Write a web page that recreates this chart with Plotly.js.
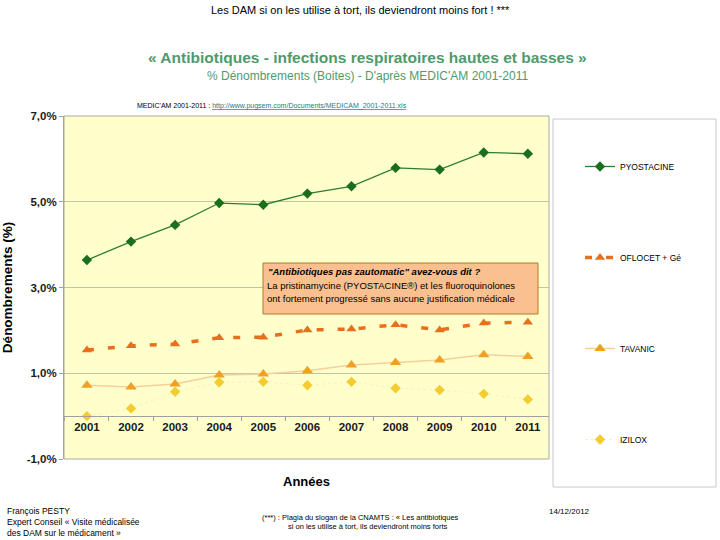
<!DOCTYPE html>
<html><head><meta charset="utf-8">
<script src="https://cdn.plot.ly/plotly-3.0.1.min.js"></script>
<style>html,body{margin:0;padding:0;background:#fff}#c{width:720px;height:540px}</style>
</head><body><div id="c"></div>
<script>
const years = ['2001','2002','2003','2004','2005','2006','2007','2008','2009','2010','2011'];
const pyostacine = [3.64, 4.07, 4.46, 4.97, 4.93, 5.19, 5.36, 5.79, 5.75, 6.15, 6.12];
const oflocet    = [1.54, 1.64, 1.68, 1.83, 1.84, 2.01, 2.03, 2.13, 2.01, 2.17, 2.19];
const tavanic    = [0.72, 0.68, 0.75, 0.96, 0.98, 1.06, 1.19, 1.25, 1.31, 1.43, 1.39];
const izilox     = [0.00, 0.18, 0.57, 0.79, 0.80, 0.72, 0.80, 0.65, 0.61, 0.52, 0.39];
const seriesNames = ['PYOSTACINE', 'OFLOCET + Gé', 'TAVANIC', 'IZILOX'];
const yTicks = [-1, 1, 3, 5, 7];
const yTickLabels = ['-1,0%', '1,0%', '3,0%', '5,0%', '7,0%'];

const W = 720, H = 540;
const px = x => x / W;
const py = y => 1 - y / H;
const FONT = 'Liberation Sans, Arial, sans-serif';

const traces = [
  {x: years, y: pyostacine, name: seriesNames[0], mode: 'lines+markers', legendgroup: 'a',
   line: {color: '#2E7D2E', width: 1.3}, marker: {symbol: 'diamond', size: 8, color: '#1B6E1B'}},
  {x: years, y: oflocet, name: seriesNames[1], mode: 'lines+markers', legendgroup: 'b',
   line: {color: '#E8701C', width: 3.5, dash: '7px,14px'}, marker: {symbol: 'triangle-up', size: 9, color: '#E8701C'}},
  {x: years, y: tavanic, name: seriesNames[2], mode: 'lines+markers', legendgroup: 'c',
   line: {color: '#F5D09A', width: 1.5}, marker: {symbol: 'triangle-up', size: 10, color: '#F0A024'}},
  {x: years, y: izilox, name: seriesNames[3], mode: 'lines+markers', legendgroup: 'd',
   line: {color: '#FFF0B8', width: 1.2, dash: 'dot'}, marker: {symbol: 'diamond', size: 8, color: '#F5CC30'}}
];

const annotations = [
  {x: 0.5, y: py(10), text: 'Les DAM si on les utilise à tort, ils deviendront moins fort ! ***',
   font: {size: 11, color: '#000', family: FONT}},
  {x: px(367), y: py(58), text: '<b>« Antibiotiques - infections respiratoires hautes et basses »</b>',
   font: {size: 15.5, color: '#4F9A6C', family: FONT}},
  {x: px(367), y: py(76), text: '% Dénombrements (Boites) - D\'après MEDIC\'AM 2001-2011',
   font: {size: 12, color: '#4F9A6C', family: FONT}},
  {x: px(135), y: py(106), xanchor: 'left', text: 'MEDIC\'AM 2001-2011 : <span style="color:#1F7A82;text-decoration:underline">http://www.pugsem.com/Documents/MEDICAM_2001-2011.xls</span>',
   font: {size: 7, color: '#000', family: FONT}},
  {x: px(266), y: py(271), xanchor: 'left', text: '<b><i>"Antibiotiques pas zautomatic" avez-vous dit ?</i></b>',
   font: {size: 9.5, color: '#000', family: FONT}},
  {x: px(265), y: py(285), xanchor: 'left', text: 'La pristinamycine (PYOSTACINE®) et les fluoroquinolones',
   font: {size: 9.5, color: '#000', family: FONT}},
  {x: px(265), y: py(298), xanchor: 'left', text: 'ont fortement progressé sans aucune justification médicale',
   font: {size: 9.5, color: '#000', family: FONT}},
  {x: px(5), y: py(511), xanchor: 'left', text: 'François PESTY', font: {size: 8.5, color: '#000', family: FONT}},
  {x: px(5), y: py(522), xanchor: 'left', text: 'Expert Conseil « Visite médicalisée', font: {size: 8.5, color: '#000', family: FONT}},
  {x: px(5), y: py(533), xanchor: 'left', text: 'des DAM sur le médicament »', font: {size: 8.5, color: '#000', family: FONT}},
  {x: px(360), y: py(517), text: '(***) : Plagia du slogan de la CNAMTS : « Les antibiotiques', font: {size: 7.5, color: '#000', family: FONT}},
  {x: px(367), y: py(526), text: 'si on les utilise à tort, ils deviendront moins forts', font: {size: 7.5, color: '#000', family: FONT}},
  {x: px(592), y: py(511), text: '14/12/2012', font: {size: 8, color: '#000', family: FONT}}
].map(a => Object.assign({xref: 'paper', yref: 'paper', showarrow: false, yanchor: 'middle'}, a));

const shapes = [
  {type: 'rect', xref: 'paper', yref: 'paper', x0: px(553), x1: px(716), y0: py(119), y1: py(487),
   line: {color: '#C8C8C8', width: 1}, fillcolor: 'rgba(0,0,0,0)'},
  {type: 'rect', xref: 'paper', yref: 'paper', x0: px(64), x1: px(549), y0: py(116), y1: py(459),
   line: {color: '#A8A8A0', width: 1}, fillcolor: 'rgba(0,0,0,0)'},
  {type: 'rect', xref: 'paper', yref: 'paper', x0: px(263), x1: px(538), y0: py(263), y1: py(314),
   line: {color: '#B07A2A', width: 1}, fillcolor: '#FAC08F', layer: 'above'}
];

const layout = {
  width: W, height: H,
  margin: {l: 0, r: 0, t: 0, b: 0},
  paper_bgcolor: '#FFFFFF',
  plot_bgcolor: '#FFFFCC',
  font: {family: FONT, color: '#000'},
  xaxis: {
    type: 'category', domain: [px(64), px(549)], anchor: 'free', position: py(416),
    range: [-0.52, 10.48],
    showgrid: false, showline: true, linecolor: '#A0A0A0', linewidth: 1,
    ticks: 'outside', tickson: 'boundaries', ticklen: 4, tickcolor: '#A0A0A0',
    tickfont: {size: 11.5, family: FONT, color: '#1A1A1A', weight: 'bold'},
    title: {text: '<b>Années</b>', font: {size: 13, family: FONT, color: '#000'}, standoff: 45},
    automargin: false, fixedrange: true
  },
  yaxis: {
    domain: [py(459), py(116)], range: [-1, 7],
    tickmode: 'array', tickvals: yTicks, ticktext: yTickLabels,
    showgrid: true, gridcolor: '#C4C4A4', gridwidth: 1, zeroline: false,
    showline: true, linecolor: '#A0A0A0',
    ticks: 'outside', ticklen: 4, tickcolor: '#A0A0A0',
    tickfont: {size: 11.5, family: FONT, color: '#1A1A1A', weight: 'bold'},
    title: {text: '<b>Dénombrements (%)</b>', font: {size: 13.5, family: FONT, color: '#000'}, standoff: 14},
    automargin: false, fixedrange: true
  },
  showlegend: true,
  legend: {
    x: px(580), y: py(152), xanchor: 'left', yanchor: 'top',
    bgcolor: 'rgba(0,0,0,0)', borderwidth: 0,
    font: {size: 8.5, family: FONT, color: '#000'},
    tracegroupgap: 72, itemwidth: 30
  },
  annotations: annotations,
  shapes: shapes
};

Plotly.newPlot('c', traces, layout, {displayModeBar: false, staticPlot: true});
</script>
</body></html>
